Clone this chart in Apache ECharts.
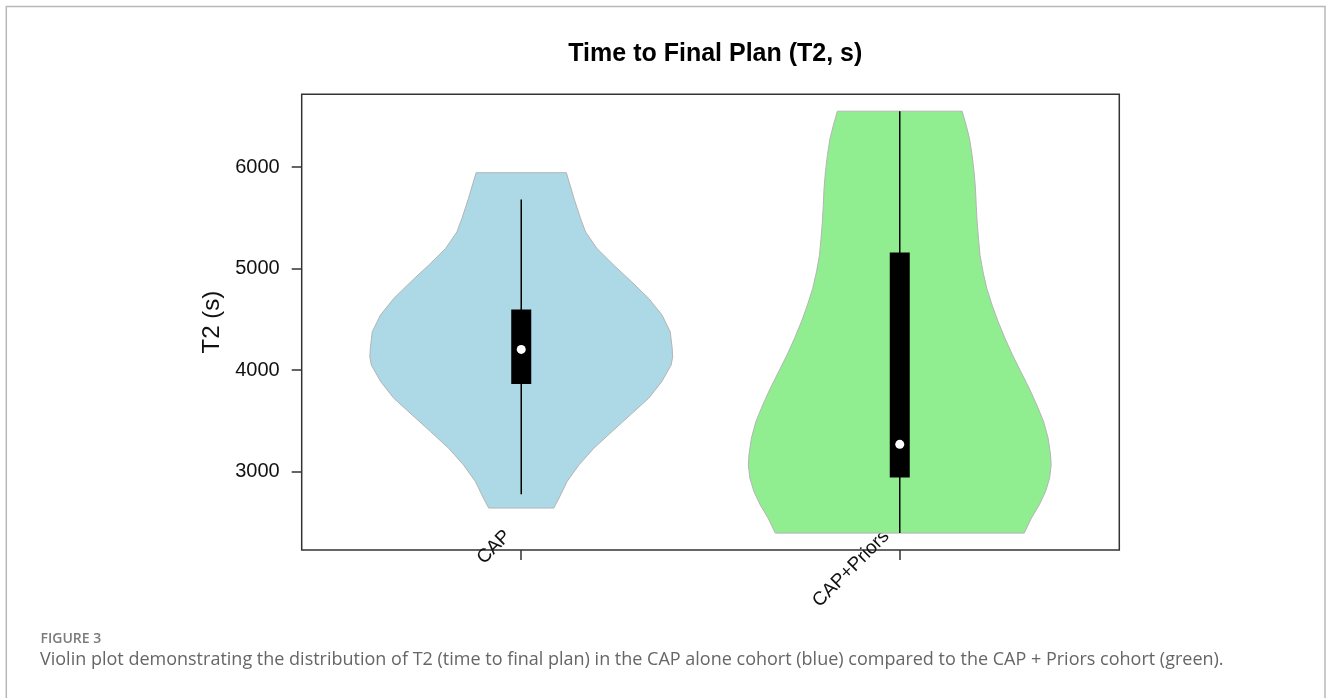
<!DOCTYPE html>
<html>
<head>
<meta charset="utf-8">
<style>
  html, body { margin: 0; padding: 0; background: #ffffff; }
  #chart { width: 1330px; height: 698px; }
</style>
<script src="https://cdn.jsdelivr.net/npm/echarts@6/dist/echarts.min.js"></script>
</head>
<body>
<div id="chart"></div>
<script>
// ---------------- data ----------------
const categories = ['CAP', 'CAP+Priors'];
const positions = [1, 2];
const violinColors = ['#ADD8E6', '#90EE90'];

// violin outline: T2 value (s) and relative density (max = 1)
const capProfileY = [5945, 5689, 5493, 5361, 5198, 5033, 4869, 4706, 4542, 4378, 4214, 4130, 4050, 3886, 3723, 3559, 3394, 3231, 3067, 2903, 2740, 2641];
const capProfileDensity = [0.298, 0.349, 0.392, 0.425, 0.50, 0.612, 0.73, 0.842, 0.93, 0.984, 0.997, 1.0, 0.99, 0.928, 0.842, 0.721, 0.599, 0.48, 0.382, 0.303, 0.25, 0.215];

const priorsProfileY = [6551, 6410, 6279, 6115, 5951, 5787, 5623, 5459, 5296, 5132, 4968, 4804, 4640, 4476, 4313, 4148, 3984, 3821, 3657, 3493, 3329, 3165, 3067, 2936, 2804, 2673, 2543, 2394];
const priorsProfileDensity = [0.412, 0.439, 0.461, 0.478, 0.491, 0.50, 0.505, 0.511, 0.52, 0.53, 0.55, 0.575, 0.61, 0.65, 0.695, 0.745, 0.80, 0.855, 0.905, 0.95, 0.98, 0.996, 1.0, 0.99, 0.963, 0.922, 0.87, 0.822];

// box summary per cohort
const whiskerLow  = [2778, 2394];
const q1          = [3864, 2941];
const medians     = [4204, 3269];
const q3          = [4598, 5158];
const whiskerHigh = [5682, 6551];

const yTicks = [3000, 4000, 5000, 6000];

// ---------------- layout helpers ----------------
const profiles = [
  { y: capProfileY, d: capProfileDensity },
  { y: priorsProfileY, d: priorsProfileDensity }
];
const allY = capProfileY.concat(priorsProfileY);
const dataMin = Math.min.apply(null, allY);
const dataMax = Math.max.apply(null, allY);
const pad = (dataMax - dataMin) * 0.04;     // R-style 4% axis extension
const yMin = dataMin - pad;
const yMax = dataMax + pad;
const xMin = 0.5 - 0.04 * 2;
const xMax = 2.5 + 0.04 * 2;

const HALF_WIDTH = 0.4;   // max half-width of a violin in x units
const BOX_PX = 20;        // box width in px

const chart = echarts.init(document.getElementById('chart'), null, { renderer: 'canvas' });

function renderViolin(params, api) {
  const idx = params.dataIndex;
  const pos = api.value(0);
  const prof = profiles[idx];
  const pts = [];
  for (let i = 0; i < prof.y.length; i++) {
    pts.push(api.coord([pos - HALF_WIDTH * prof.d[i], prof.y[i]]));
  }
  for (let i = prof.y.length - 1; i >= 0; i--) {
    pts.push(api.coord([pos + HALF_WIDTH * prof.d[i], prof.y[i]]));
  }
  const wTop = api.coord([pos, whiskerHigh[idx]]);
  const wBot = api.coord([pos, whiskerLow[idx]]);
  const bTop = api.coord([pos, q3[idx]]);
  const bBot = api.coord([pos, q1[idx]]);
  const med = api.coord([pos, medians[idx]]);
  return {
    type: 'group',
    children: [
      {
        type: 'polygon',
        shape: { points: pts },
        style: { fill: violinColors[idx], stroke: '#b4b4b4', lineWidth: 1 }
      },
      {
        type: 'line',
        shape: { x1: wTop[0], y1: wTop[1], x2: wBot[0], y2: wBot[1] },
        style: { stroke: '#000', lineWidth: 1.5 }
      },
      {
        type: 'rect',
        shape: { x: bTop[0] - BOX_PX / 2, y: bTop[1], width: BOX_PX, height: bBot[1] - bTop[1] },
        style: { fill: '#000' }
      },
      {
        type: 'circle',
        shape: { cx: med[0], cy: med[1], r: 4.5 },
        style: { fill: '#fff' }
      }
    ]
  };
}

const option = {
  backgroundColor: '#ffffff',
  animation: false,
  title: {
    text: 'Time to Final Plan (T2, s)',
    left: 710.3,
    top: 37,
    textAlign: 'center',
    textStyle: {
      fontFamily: 'Liberation Sans',
      fontWeight: 'bold',
      fontSize: 25,
      color: '#000'
    }
  },
  grid: {
    left: 301.7,
    top: 94.3,
    width: 817.6,
    height: 455.7,
    show: true,
    borderColor: '#333',
    borderWidth: 1.5,
    backgroundColor: 'transparent'
  },
  xAxis: {
    type: 'value',
    min: xMin,
    max: xMax,
    axisLine: { show: false },
    splitLine: { show: false },
    axisTick: {
      show: true,
      customValues: positions,
      length: 10,
      lineStyle: { color: '#333', width: 1.5 }
    },
    axisLabel: {
      show: true,
      customValues: positions,
      formatter: function (v) { return categories[Math.round(v) - 1] || ''; },
      rotate: 45,
      margin: -30,
      padding: [0, 19, 0, 0],
      fontFamily: 'Liberation Sans',
      fontSize: 19,
      color: '#111'
    }
  },
  yAxis: {
    type: 'value',
    min: yMin,
    max: yMax,
    name: 'T2 (s)',
    nameLocation: 'middle',
    nameGap: 61,
    nameTextStyle: {
      fontFamily: 'Liberation Sans',
      fontSize: 24,
      color: '#111'
    },
    axisLine: { show: false },
    splitLine: { show: false },
    axisTick: {
      show: true,
      customValues: yTicks,
      length: 10,
      lineStyle: { color: '#333', width: 1.5 }
    },
    axisLabel: {
      show: true,
      customValues: yTicks,
      formatter: function (v) { return String(Math.round(v)); },
      margin: 22,
      fontFamily: 'Liberation Sans',
      fontSize: 20,
      color: '#111'
    }
  },
  series: [
    {
      type: 'custom',
      renderItem: renderViolin,
      data: positions.map(function (p) { return [p, 0]; }),
      encode: { x: 0 },
      clip: false,
      z: 2
    }
  ],
  graphic: [
    {
      type: 'rect',
      shape: { x: 6.3, y: 6.5, width: 1318.7, height: 800 },
      style: { fill: 'none', stroke: '#b8b8b8', lineWidth: 1.5 },
      silent: true,
      z: -1
    },
    {
      type: 'text',
      left: 40.5,
      top: 632,
      style: {
        text: 'FIGURE 3',
        fontFamily: 'Open Sans',
        fontWeight: 600,
        fontSize: 14,
        fill: '#7a7a7a'
      }
    },
    {
      type: 'text',
      left: 40,
      top: 651,
      style: {
        text: 'Violin plot demonstrating the distribution of T2 (time to final plan) in the CAP alone cohort (blue) compared to the CAP + Priors cohort (green).',
        fontFamily: 'Open Sans',
        fontSize: 18,
        fill: '#666666'
      }
    }
  ]
};

chart.setOption(option);
</script>
</body>
</html>
